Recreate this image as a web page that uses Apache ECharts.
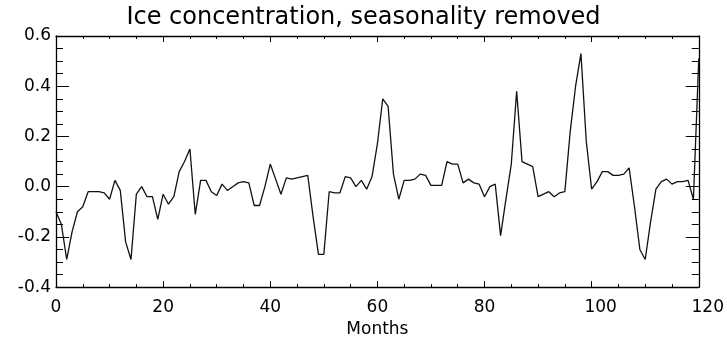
<!DOCTYPE html>
<html>
<head>
<meta charset="utf-8">
<script src="https://cdn.jsdelivr.net/npm/echarts@6/dist/echarts.min.js"></script>
<style>
html,body{margin:0;padding:0;background:#fff;}
#chart{width:727px;height:343px;}
</style>
</head>
<body>
<div id="chart"></div>
<script>
const titleText = "Ice concentration, seasonality removed";
const xAxisName = "Months";
const xTicks = [0, 20, 40, 60, 80, 100, 120];
const yTicks = [-0.4, -0.2, 0.0, 0.2, 0.4, 0.6];
const months = [
  0,1,2,3,4,5,6,7,8,9,10,11,12,13,14,15,16,17,18,19,
  20,21,22,23,24,25,26,27,28,29,30,31,32,33,34,35,36,37,38,39,
  40,41,42,43,44,45,46,47,48,49,50,51,52,53,54,55,56,57,58,59,
  60,61,62,63,64,65,66,67,68,69,70,71,72,73,74,75,76,77,78,79,
  80,81,82,83,84,85,86,87,88,89,90,91,92,93,94,95,96,97,98,99,
  100,101,102,103,104,105,106,107,108,109,110,111,112,113,114,115,116,117,118,119,120
];
const iceAnomaly = [
  -0.10,-0.15,-0.29,-0.18,-0.10,-0.08,-0.02,-0.02,-0.02,-0.025,
  -0.05,0.025,-0.015,-0.22,-0.29,-0.03,0.00,-0.04,-0.04,-0.13,
  -0.03,-0.07,-0.04,0.06,0.10,0.15,-0.11,0.025,0.025,-0.02,
  -0.035,0.01,-0.015,0.00,0.015,0.02,0.015,-0.075,-0.075,0.00,
  0.09,0.03,-0.03,0.035,0.03,0.035,0.04,0.045,-0.12,-0.27,
  -0.27,-0.02,-0.025,-0.025,0.04,0.035,0.00,0.025,-0.01,0.04,
  0.17,0.35,0.32,0.05,-0.05,0.025,0.025,0.03,0.05,0.045,
  0.005,0.005,0.005,0.10,0.09,0.09,0.015,0.03,0.015,0.01,
  -0.04,0.00,0.01,-0.195,-0.05,0.09,0.38,0.10,0.09,0.08,
  -0.04,-0.03,-0.02,-0.04,-0.025,-0.02,0.22,0.40,0.53,0.18,
  -0.01,0.02,0.06,0.06,0.045,0.045,0.05,0.075,-0.08,-0.25,
  -0.29,-0.14,-0.01,0.02,0.03,0.01,0.02,0.02,0.025,-0.05,0.51
];

const FONT = "DejaVu Sans";
const chart = echarts.init(document.getElementById('chart'), null, {renderer: 'canvas'});

const xMin = xTicks[0], xMax = xTicks[xTicks.length - 1], xInt = xTicks[1] - xTicks[0];
const yMin = yTicks[0], yMax = yTicks[yTicks.length - 1], yInt = 0.2;

function xAxisCfg(pos, showLabels) {
  return {
    type: 'value', position: pos, min: xMin, max: xMax, interval: xInt,
    name: showLabels ? xAxisName : '',
    nameLocation: 'middle', nameGap: 23,
    nameTextStyle: {fontFamily: FONT, fontSize: 17, color: '#000'},
    axisLine: {show: true, onZero: false, lineStyle: {color: '#000', width: 1.3}},
    axisTick: {show: true, inside: true, length: 6, lineStyle: {color: '#000', width: 1}},
    minorTick: {show: true, splitNumber: 4, length: 3, lineStyle: {color: '#000', width: 1}},
    axisLabel: {
      show: showLabels, margin: 12, fontFamily: FONT, fontSize: 17, color: '#000',
      formatter: v => v >= 100 ? '{w|' + v + '}' : '{n|' + v + '}',
      rich: {
        n: {fontFamily: FONT, fontSize: 17, color: '#000'},
        w: {fontFamily: FONT, fontSize: 17, color: '#000', padding: [0, 0, 0, 18]}
      }
    },
    splitLine: {show: false}
  };
}
function yAxisCfg(pos, showLabels) {
  return {
    type: 'value', position: pos, min: yMin, max: yMax, interval: yInt,
    axisLine: {show: true, onZero: false, lineStyle: {color: '#000', width: 1.3}},
    axisTick: {show: true, inside: true, length: 13, lineStyle: {color: '#000', width: 1}},
    minorTick: {show: true, splitNumber: 4, length: 7, lineStyle: {color: '#000', width: 1}},
    axisLabel: {show: showLabels, margin: 5, fontFamily: FONT, fontSize: 17, color: '#000',
      formatter: v => v.toFixed(1)},
    splitLine: {show: false}
  };
}

chart.setOption({
  animation: false,
  backgroundColor: '#fff',
  title: {
    text: titleText, left: 'center', top: 1,
    textStyle: {fontFamily: FONT, fontSize: 24, fontWeight: 'normal', color: '#000'}
  },
  grid: {left: 56, right: 27, top: 36, bottom: 47, containLabel: false},
  xAxis: [xAxisCfg('bottom', true), xAxisCfg('top', false)],
  yAxis: [yAxisCfg('left', true), yAxisCfg('right', false)],
  series: [{
    type: 'line',
    xAxisIndex: 0, yAxisIndex: 0,
    data: months.map((m, i) => [m, iceAnomaly[i]]),
    showSymbol: false, symbol: 'none',
    lineStyle: {color: '#111', width: 1.3},
    clip: false
  }]
});
</script>
</body>
</html>
